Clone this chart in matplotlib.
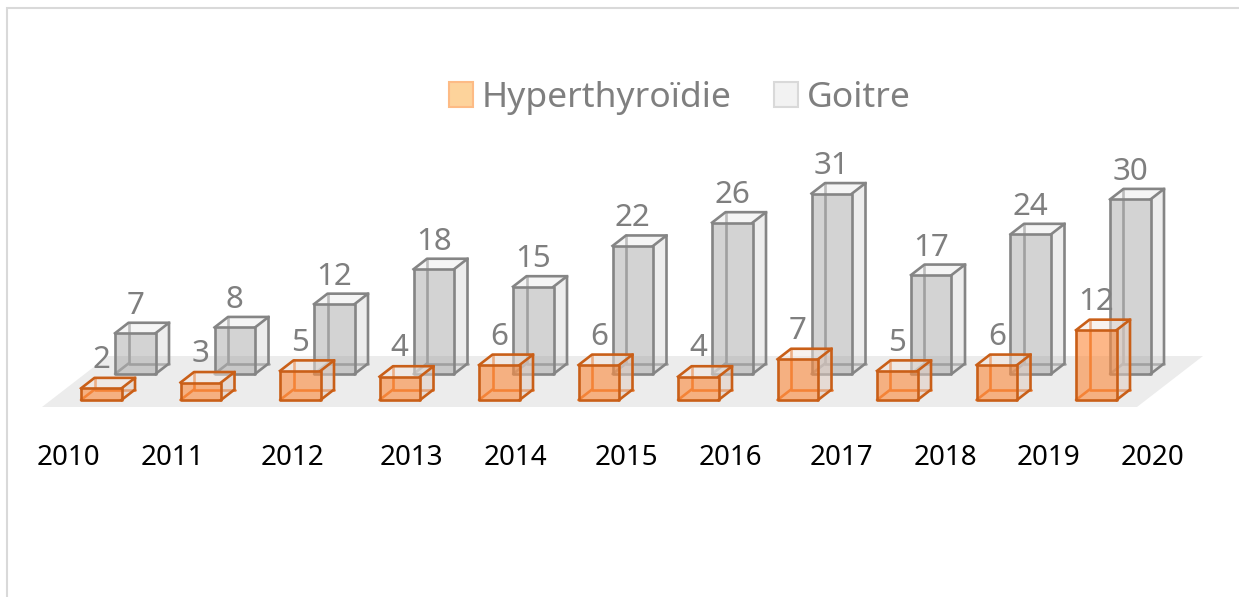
import matplotlib
matplotlib.use("Agg")
import matplotlib.pyplot as plt
from matplotlib.patches import Polygon, Patch

years = ["2010", "2011", "2012", "2013", "2014", "2015", "2016", "2017", "2018", "2019", "2020"]
hyperthyroidie = [2, 3, 5, 4, 6, 6, 4, 7, 5, 6, 12]
goitre = [7, 8, 12, 18, 15, 22, 26, 31, 17, 24, 30]
label_px = [68, 172, 292, 411, 515, 626, 730, 841, 945, 1049, 1152]

W, H = 1239, 597
PX_X, PX_Y = 99.5, 5.82    # pixels per category / per value
X0, Y0 = 81, 400           # pixel of category 0 left edge / value 0
bar_w = 40.5 / PX_X
dep_x, dep_y = 13.5 / PX_X, 10.5 / PX_Y
g_dx, g_dy = 34 / PX_X, 26 / PX_Y

plt.rcParams["font.family"] = ["Noto Sans", "DejaVu Sans"]
fig = plt.figure(figsize=(W / 100, H / 100), dpi=100, facecolor="white")
ax = fig.add_axes([0, 0, 1, 1])
ax.set_xlim(-X0 / PX_X, (W - X0) / PX_X)
ax.set_ylim((Y0 - H) / PX_Y, Y0 / PX_Y)
for s in ax.spines.values():
    s.set_visible(False)
ax.yaxis.set_visible(False)
ax.patch.set_visible(False)


def px_x(p):
    return (p - X0) / PX_X


def px_y(p):
    return (Y0 - p) / PX_Y


# Outer frame
ax.plot([px_x(7), px_x(7), px_x(1239)], [px_y(597), px_y(8), px_y(8)],
        color="#d9d9d9", lw=1.5, zorder=1, solid_joinstyle="miter")

# Floor
ax.add_patch(Polygon([(px_x(42), px_y(407)), (px_x(1137), px_y(407)),
                      (px_x(1203), px_y(356)), (px_x(108), px_y(356))],
                     closed=True, fc="#ececec", ec="none", zorder=1))


def box(x, y, h, front, side, top, edge, back_edge, z):
    w = bar_w
    fl, fb = (x, y), (x + w, y)
    fr, ft = (x + w, y + h), (x, y + h)
    bl, bb = (x + dep_x, y + dep_y), (x + w + dep_x, y + dep_y)
    br, bt = (x + w + dep_x, y + h + dep_y), (x + dep_x, y + h + dep_y)
    lw = 1.9
    # hidden edges seen through the translucent front
    ax.plot(*zip(bt, bl, bb), color=back_edge, lw=lw, zorder=z, solid_capstyle="round")
    ax.plot(*zip(fl, bl), color=back_edge, lw=lw, zorder=z, solid_capstyle="round")
    ax.add_patch(Polygon([fb, bb, br, fr], closed=True, fc=side, ec="none", zorder=z + 0.1))
    ax.add_patch(Polygon([ft, fr, br, bt], closed=True, fc=top, ec="none", zorder=z + 0.1))
    ax.add_patch(Polygon([fl, fb, fr, ft], closed=True, fc=front, ec="none", zorder=z + 0.1))
    ax.add_patch(Polygon([fl, fb, fr, ft], closed=True, fc="none", ec=edge, lw=lw,
                         joinstyle="round", zorder=z + 0.2))
    ax.plot(*zip(fb, bb, br, fr), color=edge, lw=lw, zorder=z + 0.2, solid_joinstyle="round")
    ax.plot(*zip(ft, bt, br), color=edge, lw=lw, zorder=z + 0.2, solid_joinstyle="round")


LABEL_GRAY = "#7f7f7f"
LABEL_FS = 22.5
for i, v in enumerate(goitre):
    x, y = i + g_dx, g_dy
    box(x, y, v, (0.62, 0.62, 0.62, 0.45), (0.8, 0.8, 0.8, 0.35), (0.9, 0.9, 0.9, 0.4),
        "#858585", "#a2a2a2", 3)
    ax.annotate(str(v), (x + bar_w / 2, y + v + dep_y), xytext=(0, 6.5),
                textcoords="offset points", ha="center", va="baseline",
                color=LABEL_GRAY, fontsize=LABEL_FS, zorder=9)

for i, v in enumerate(hyperthyroidie):
    x, y = i, 0
    box(x, y, v, (0.99, 0.55, 0.25, 0.62), (0.88, 0.80, 0.76, 0.55), (0.95, 0.90, 0.87, 0.5),
        "#c95f18", "#e8772b", 5)
    ax.annotate(str(v), (x + bar_w / 2, y + v + dep_y), xytext=(0, 7),
                textcoords="offset points", ha="center", va="baseline",
                color=LABEL_GRAY, fontsize=LABEL_FS, zorder=9)

# Category labels
ax.set_xticks([px_x(p) for p in label_px])
ax.set_xticklabels(years, fontsize=20, color="black")
ax.tick_params(axis="x", length=0, pad=0, direction="in")
for t in ax.get_xticklabels():
    t.set_verticalalignment("baseline")
    t.set_transform(ax.get_xaxis_transform())
    t.set_position((t.get_position()[0], (H - 465) / H))

# Legend
handles = [Patch(fc="#fdd39b", ec="#fdbb85", lw=1.5, label="Hyperthyroïdie"),
           Patch(fc="#f2f2f2", ec="#d9d9d9", lw=1.5, label="Goitre")]
leg = ax.legend(handles=handles, ncol=2, frameon=False, fontsize=25.5,
                labelcolor="#7f7f7f", handlelength=0.68, handleheight=0.68,
                handletextpad=0.25, columnspacing=1.2, borderpad=0, borderaxespad=0,
                loc="center", bbox_to_anchor=(680 / W, 1 - 98 / H))
leg.set_zorder(10)

fig.savefig("out.png", dpi=100, facecolor="white")
